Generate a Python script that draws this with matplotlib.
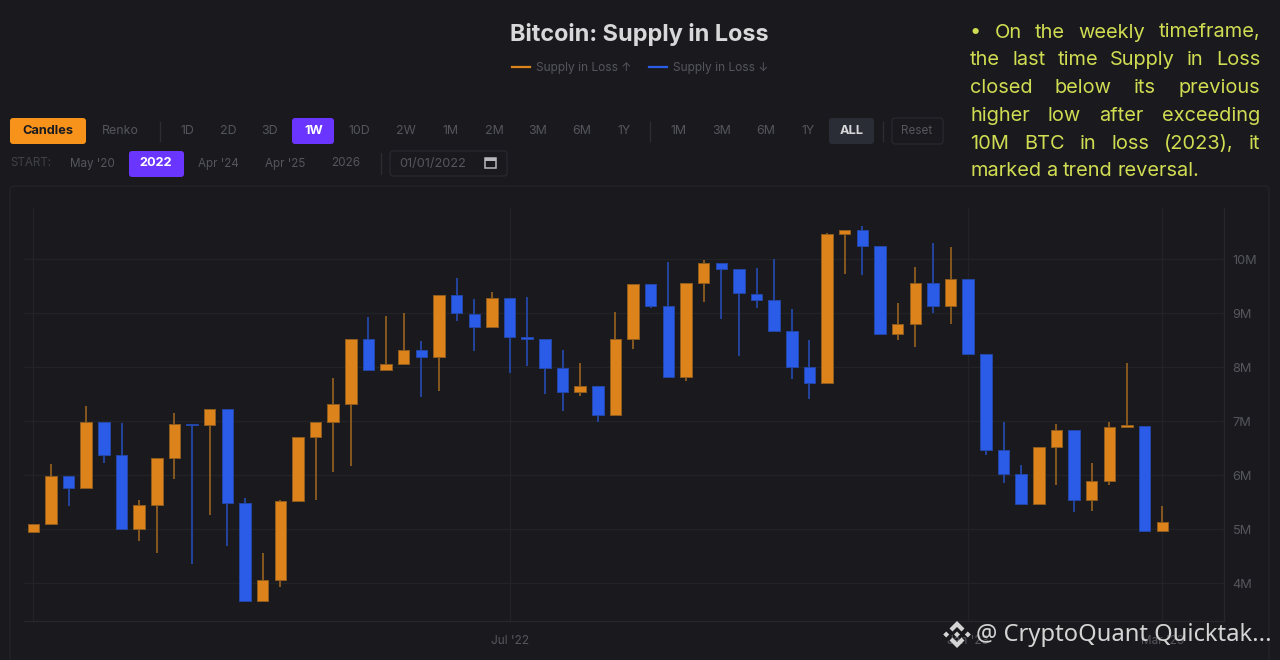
import matplotlib
matplotlib.use("Agg")
import matplotlib.pyplot as plt
from matplotlib.patches import FancyBboxPatch, Rectangle, Polygon

opens = [4.951,5.099,5.988,5.759,6.981,6.377,5.0,5.444,6.321,6.944,6.932,7.228,5.481,3.667,4.062,5.531,6.716,6.981,7.327,
         8.531,7.944,8.062,8.327,8.198,9.340,8.994,8.741,9.29,8.549,8.519,7.981,7.543,7.660,7.117,8.519,9.549,9.142,7.821,
         9.568,9.926,9.815,9.364,9.241,8.667,8.0,7.710,10.475,10.537,10.247,8.623,8.796,9.568,9.136,9.636,8.241,6.469,6.025,
         5.463,6.519,6.840,5.549,5.889,6.901,6.914,4.975]
closes = [5.099,5.988,5.759,6.981,6.383,5.0,5.444,6.321,6.944,6.926,7.228,5.494,3.667,4.062,5.531,6.716,6.981,7.327,8.531,
          7.944,8.062,8.327,8.198,9.340,9.0,8.741,9.29,8.562,8.531,7.988,7.543,7.660,7.117,8.519,9.549,9.142,7.821,9.562,
          9.926,9.821,9.370,9.253,8.679,8.006,7.716,10.469,10.537,10.253,8.623,8.796,9.568,9.142,9.636,8.247,6.475,6.031,5.463,
          6.519,6.840,5.549,5.889,6.901,6.907,4.975,5.130]
highs = [5.099,6.210,5.988,7.290,6.981,6.963,5.543,6.321,7.148,6.944,7.228,7.228,5.574,4.556,5.549,6.716,6.981,7.802,8.531,
         8.926,8.944,9.0,8.481,9.340,9.648,9.265,9.389,9.29,9.296,8.519,8.321,8.080,7.660,9.019,9.549,9.549,9.957,9.562,
         9.994,9.926,9.815,9.833,10.006,9.086,8.506,10.488,10.537,10.617,10.247,9.185,9.864,10.296,10.222,9.636,8.241,6.981,6.185,
         6.519,6.951,6.840,6.222,6.981,8.086,6.914,5.432]
lows = [4.951,5.099,5.438,5.759,6.222,5.0,4.784,4.568,5.926,4.364,5.259,4.691,3.667,3.667,3.938,5.531,5.549,6.068,6.167,
        7.944,7.944,8.062,7.457,7.556,8.864,8.309,8.741,7.901,8.019,7.506,7.185,7.469,6.994,7.117,8.333,9.105,7.821,7.741,
        9.216,8.895,8.216,9.105,8.679,7.790,7.420,7.710,9.728,9.716,8.623,8.506,8.383,9.006,8.809,8.247,6.383,5.864,5.463,
        5.463,5.827,5.315,5.340,5.827,6.901,4.957,4.975]
y_ticks = [4, 5, 6, 7, 8, 9, 10]
y_labels = ["4M", "5M", "6M", "7M", "8M", "9M", "10M"]
x_ticks = [27, 53, 64]
x_labels = ["Jul '22", "Jan '23", "Mar '23"]
x_grid = [0, 27, 53, 64]
title = "Bitcoin: Supply in Loss"
legend_up = "Supply in Loss ↑"
legend_down = "Supply in Loss ↓"
note_lines = ["• On the weekly timeframe,", "the last time Supply in Loss", "closed below its previous",
              "higher low after exceeding", "10M BTC in loss (2023), it", "marked a trend reversal."]
watermark = "@ CryptoQuant Quicktak..."

BG = "#1a1a1e"
ORANGE = "#dc841b"
BLUE = "#2a5ce8"
GRID = "#222327"
FONT = ["Inter", "DejaVu Sans"]
W, H = 1280, 660

fig = plt.figure(figsize=(W / 100, H / 100), dpi=100, facecolor=BG)
ui = fig.add_axes([0, 0, 1, 1], zorder=0)
ui.set_xlim(0, W)
ui.set_ylim(H, 0)
ui.axis("off")

def label(x, y, s, color="#55565c", size=8.9, weight="normal", ha="center", family=FONT, zorder=5):
    return ui.text(x, y + 1, s, color=color, fontsize=size, fontweight=weight, ha=ha, va="center",
                   family=family, zorder=zorder)

def pill(x0, y0, x1, y1, face, edge="none", r=3):
    ui.add_patch(FancyBboxPatch((x0 + r, y0 + r), x1 - x0 - 2 * r, y1 - y0 - 2 * r,
                                boxstyle=f"round,pad={r},rounding_size={r}",
                                fc=face, ec=edge, lw=0.8, zorder=2))

# chart panel
pill(10, 186, 1269, 680, BG, "#242529", r=4)

# title and legend
label(639.5, 33.5, title, color="#d8d8da", size=16.9, weight="bold")
ui.plot([512, 530], [67, 67], color=ORANGE, lw=1.6)
label(536, 66.5, legend_up, size=8.6, ha="left")
ui.plot([649, 667], [67, 67], color=BLUE, lw=1.6)
label(673, 66.5, legend_down, size=8.6, ha="left")

# toolbar row 1
pill(10, 118, 86, 144, "#f7931a")
label(48, 130.5, "Candles", color="#1a1b20", size=9.2, weight="bold")
label(120, 130.5, "Renko")
for xs in (160, 650, 883):
    ui.plot([xs, xs], [122, 141], color="#2c2d32", lw=1)
for x, s in zip([187, 228, 270, 359, 406, 450, 494, 538, 582, 624, 678, 722, 766, 808],
                ["1D", "2D", "3D", "10D", "2W", "1M", "2M", "3M", "6M", "1Y", "1M", "3M", "6M", "1Y"]):
    label(x, 130.5, s)
pill(292, 118, 334, 144, "#6a35ff")
label(313.5, 130.5, "1W", color="#ffffff", size=9.2, weight="bold")
pill(829, 118, 874, 144, "#2a2c36")
label(851.5, 130.5, "ALL", color="#d8d8da", size=9.2, weight="bold")
pill(892, 118, 943, 144, BG, "#2a2b30")
label(917, 130.5, "Reset", size=8.4)

# toolbar row 2
label(10, 162.5, "START:", color="#414247", size=8.4, ha="left")
for x, s in zip([92, 218, 285, 346], ["May '20", "Apr '24", "Apr '25", "2026"]):
    label(x, 162.5, s, size=8.4)
pill(129, 151, 184, 177, "#6a35ff")
label(156, 162.5, "2022", color="#ffffff", size=9.2, weight="bold")
ui.plot([381, 381], [153, 174], color="#2c2d32", lw=1)
pill(390, 151, 507, 176, BG, "#2a2b30")
label(399, 162.5, "01/01/2022", ha="left", size=9.2)
ui.add_patch(Rectangle((485, 158), 11, 10, fc="none", ec="#b8b8bc", lw=1.1, zorder=5))
ui.add_patch(Rectangle((485, 158), 11, 2.5, fc="#b8b8bc", ec="none", zorder=5))

# candles
px0, px_step = 33.3, 17.64
ax = fig.add_axes([24 / W, 1 - 620.7 / H, (1224.3 - 24) / W, (620.7 - 208) / H], zorder=1)
ax.set_facecolor("none")
ax.set_xlim((24 - px0) / px_step, (1224.3 - px0) / px_step)
ax.set_ylim(10 - (620.7 - 259.3) / 54, 10 + (259.3 - 208) / 54)
for s in ("top", "left"):
    ax.spines[s].set_visible(False)
for s in ("bottom", "right"):
    ax.spines[s].set_color("#27282c")
    ax.spines[s].set_linewidth(1)
ax.yaxis.tick_right()
ax.set_yticks(y_ticks, y_labels, color="#55565c", fontsize=9.2, family=FONT)
ax.set_xticks(x_ticks, x_labels, color="#55565c", fontsize=8.5, family=FONT)
ax.tick_params(length=0, axis="y", pad=6)
ax.tick_params(length=0, axis="x", pad=10)
ax.hlines(y_ticks, *ax.get_xlim(), color=GRID, lw=1, zorder=1)
ax.vlines(x_grid, *ax.get_ylim(), color=GRID, lw=1, zorder=1)
for i, (o, c, h, l) in enumerate(zip(opens, closes, highs, lows)):
    col = ORANGE if c >= o else BLUE
    wick = "#8f5c20" if c >= o else "#2447a8"
    ax.vlines(i, l, h, color=wick, lw=1.3, zorder=2)
    ax.bar(i, max(abs(c - o), 0.03), bottom=min(o, c), width=0.65, color=col,
           edgecolor=wick, linewidth=0.7, zorder=3)

# annotation, justified between the two margins
fig.canvas.draw()
rend = fig.canvas.get_renderer()
for n, line in enumerate(note_lines):
    y = 31.5 + n * 27.8
    words = line.split(" ")
    arts = [label(970, y, w, color="#d0dc52", size=14.4, ha="left", family=FONT, zorder=6) for w in words]
    widths = [a.get_window_extent(rend).width for a in arts]
    if n < len(note_lines) - 1:
        gap = (1260 - 970 - sum(widths)) / (len(words) - 1)
    else:
        gap = 5.0
    x = 970
    for a, wd in zip(arts, widths):
        a.set_x(x)
        x += wd + gap

# watermark drawn above the chart axes
ax_top = fig.add_axes([0, 0, 1, 1], zorder=3)
ax_top.set_facecolor("none")
ax_top.set_xlim(0, W)
ax_top.set_ylim(H, 0)
ax_top.axis("off")
WM = "#d4d4d4"
cx, cy = 957, 634.5
ax_top.add_patch(Polygon([(cx, cy - 13.5), (cx + 7.5, cy - 6), (cx + 4.5, cy - 3), (cx, cy - 7.5), (cx - 4.5, cy - 3), (cx - 7.5, cy - 6)], fc=WM, ec="none"))
ax_top.add_patch(Polygon([(cx, cy + 13.5), (cx + 7.5, cy + 6), (cx + 4.5, cy + 3), (cx, cy + 7.5), (cx - 4.5, cy + 3), (cx - 7.5, cy + 6)], fc=WM, ec="none"))
for dx, r in [(-10.8, 3), (10.8, 3), (0, 3)]:
    ax_top.add_patch(Polygon([(cx + dx, cy - r), (cx + dx + r, cy), (cx + dx, cy + r), (cx + dx - r, cy)], fc=WM, ec="none"))
ax_top.text(976, 635, watermark, color=WM, fontsize=17.1, ha="left", va="center", family=["Noto Sans", "DejaVu Sans"])

fig.savefig("out.png", dpi=100, facecolor=BG)
